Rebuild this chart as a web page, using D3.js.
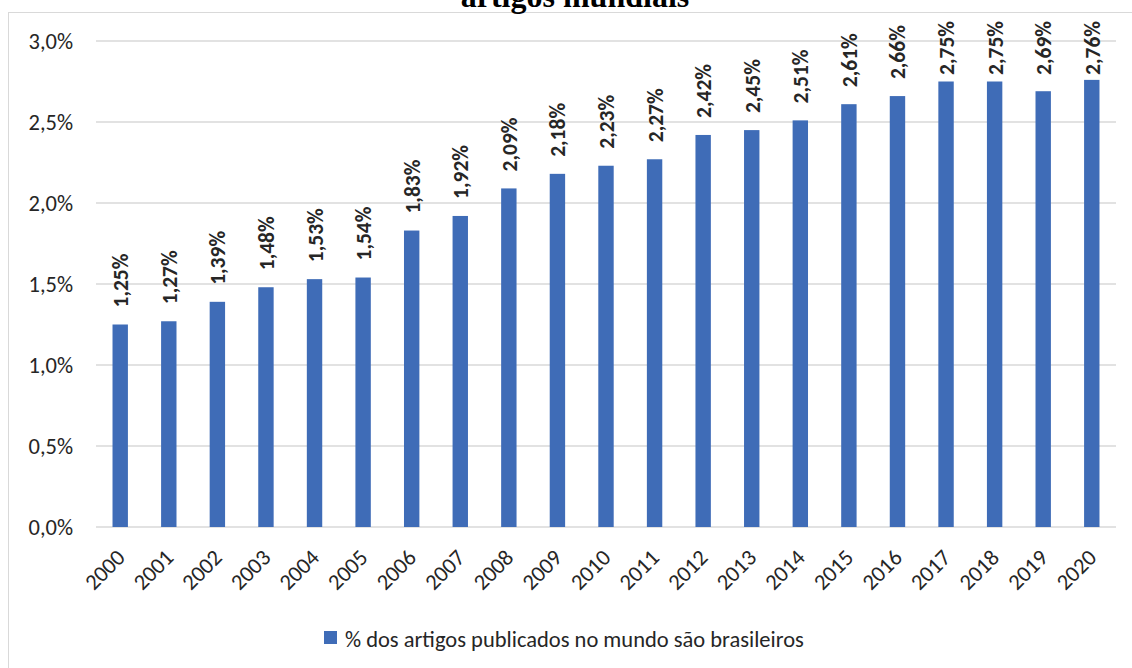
<!DOCTYPE html>
<html>
<head>
<meta charset="utf-8">
<script src="https://cdn.jsdelivr.net/npm/d3@7"></script>
<style>
  body { margin: 0; background: #fff; }
  #container { width: 1132px; height: 668px; }
  text { font-family: Carlito, "Open Sans", "Liberation Sans", sans-serif; }
</style>
</head>
<body>
<div id="container"></div>
<script>

var years = ["2000","2001","2002","2003","2004","2005","2006","2007","2008","2009","2010",
             "2011","2012","2013","2014","2015","2016","2017","2018","2019","2020"];
var shares = [1.25,1.27,1.39,1.48,1.53,1.54,1.83,1.92,2.09,2.18,2.23,
              2.27,2.42,2.45,2.51,2.61,2.66,2.75,2.75,2.69,2.76];
var yTicks = [0, 0.5, 1.0, 1.5, 2.0, 2.5, 3.0];
var seriesName = "% dos artigos publicados no mundo são brasileiros";
var title = "artigos mundiais";

function fmt(v, dec) {
	return v.toFixed(dec).replace(".", ",") + "%";
}

function render() {
	var width = 1132, height = 668;
	var margin = {left:96, top:41, right:16, bottom:141};
	var textCol = '#262626';

	var svg = d3.select("#container")
		.append('svg')
		.attr("width", width)
		.attr('height', height);

	// chart frame
	svg.append('rect')
		.attr('x', 8.5).attr('y', 12.5)
		.attr('width', width + 20).attr('height', height)
		.attr('fill', 'none')
		.attr('stroke', '#d9d9d9');

	// title (cut at top like the source)
	svg.append('text')
		.attr('x', 575).attr('y', 7)
		.attr('text-anchor', 'middle')
		.style('font-family', '"Liberation Serif", "Times New Roman", serif')
		.style('font-weight', 'bold')
		.style('font-size', '32px')
		.attr('fill', '#000')
		.text(title);

	var x = d3.scaleBand()
		.domain(years)
		.range([margin.left, width - margin.right])
		.paddingInner(0.683)
		.paddingOuter(0.34);

	var y = d3.scaleLinear()
		.domain([0, 3.0])
		.range([height - margin.bottom, margin.top]);

	// gridlines
	svg.append('g')
		.selectAll('line')
		.data(yTicks)
		.enter()
		.append('line')
		.attr('x1', margin.left).attr('x2', width - margin.right)
		.attr('y1', d => y(d)).attr('y2', d => y(d))
		.attr('stroke', '#d9d9d9')
		.attr('stroke-width', 1.5);

	// y axis labels
	var yAxis = d3.axisLeft(y).tickValues(yTicks).tickSize(0).tickPadding(0)
		.tickFormat(d => fmt(d, 1));
	var ya = svg.append('g')
		.attr('transform', 'translate(73,0)')
		.call(yAxis);
	ya.select('.domain').remove();
	ya.selectAll('text')
		.style('font-size', '22.5px')
		.attr('fill', textCol)
		.attr('dy', '0.35em');

	// bars
	svg.append('g')
		.selectAll('rect')
		.data(shares)
		.enter()
		.append('rect')
		.attr('x', (d,i) => x(years[i]))
		.attr('y', d => y(d))
		.attr('width', x.bandwidth())
		.attr('height', d => y(0) - y(d))
		.attr('fill', '#3f6cb7');

	// value labels - kept inside the frame near the top, like Excel does
	var labels = svg.append('g')
		.selectAll('text')
		.data(shares)
		.enter()
		.append('text')
		.style('font-size', '21.5px')
		.style('font-weight', 'bold')
		.attr('fill', textCol)
		.text(d => fmt(d, 2));
	labels.attr('transform', function(d,i) {
		var len = this.getComputedTextLength();
		var base = Math.max(y(d) - 17, 21 + len);
		return 'translate(' + (x(years[i]) + x.bandwidth()/2 + 8) + ',' + base + ') rotate(-90)';
	});

	// x axis labels
	var xAxis = d3.axisBottom(x).tickSize(0).tickPadding(0);
	var xa = svg.append('g')
		.attr('transform', 'translate(0,' + y(0) + ')')
		.call(xAxis);
	xa.select('.domain').remove();
	xa.selectAll('text')
		.style('font-size', '22.5px')
		.attr('fill', textCol)
		.attr('text-anchor', 'end')
		.attr('dy', null)
		.attr('y', 0)
		.attr('transform', 'translate(6,32) rotate(-45)');

	// legend
	var lg = svg.append('g').attr('transform', 'translate(324,631)');
	lg.append('rect')
		.attr('width', 13).attr('height', 13)
		.attr('fill', '#3f6cb7');
	lg.append('text')
		.attr('x', 21).attr('y', 16)
		.style('font-size', '22.5px')
		.attr('fill', textCol)
		.text(seriesName);
}

render();
</script>
</body>
</html>
